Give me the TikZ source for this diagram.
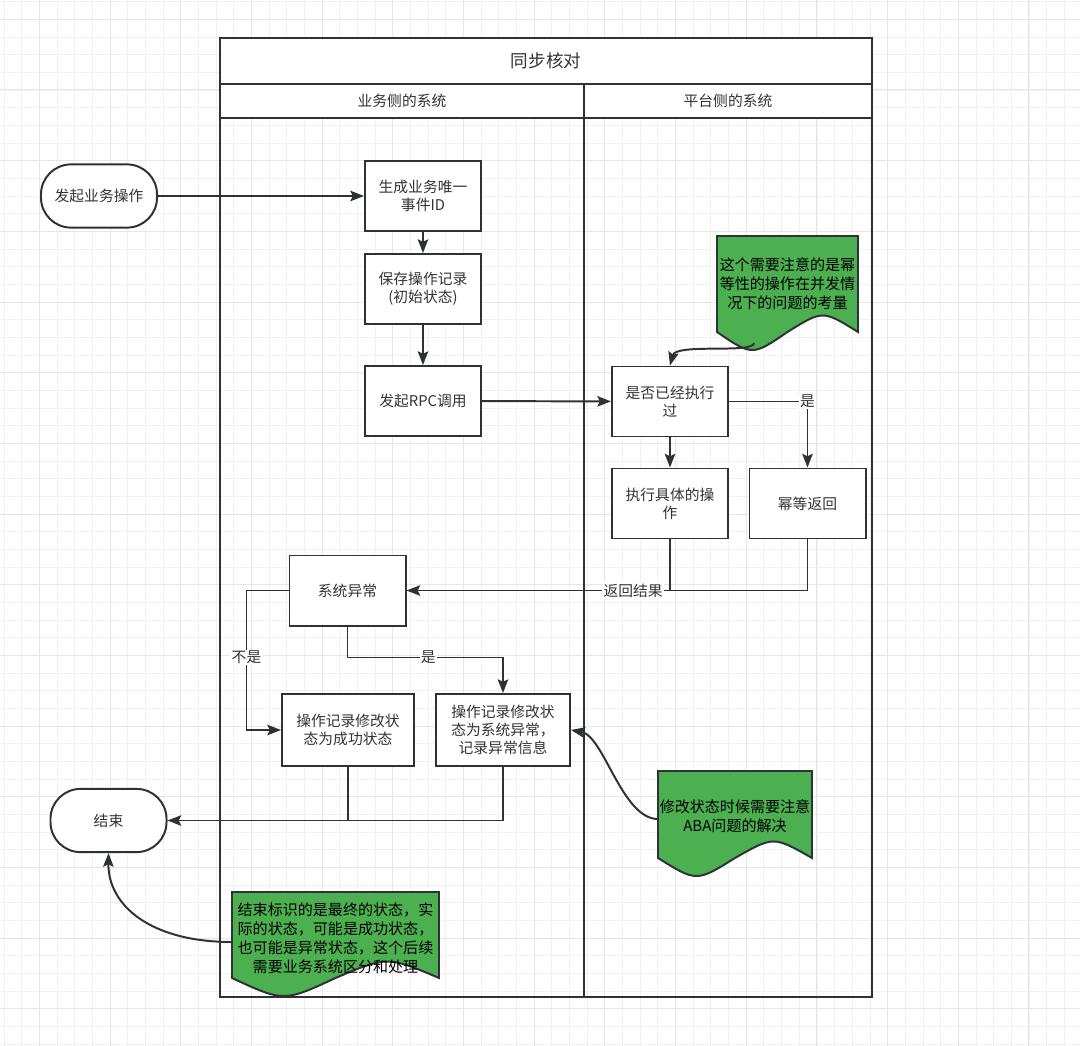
\documentclass[tikz,border=0pt]{standalone}
\usepackage{fontspec}
\setmainfont{Noto Sans CJK SC}
\usetikzlibrary{arrows.meta}

\definecolor{edgegray}{HTML}{2E3236}
\definecolor{txtgray}{HTML}{333333}
\definecolor{notegreen}{HTML}{4CAF50}
\definecolor{gridminor}{HTML}{F1F1F1}
\definecolor{gridmajor}{HTML}{E6E6E6}

\tikzset{
  every node/.style={font=\fontsize{10.5pt}{13pt}\selectfont, text=txtgray, align=center},
  box/.style={draw=edgegray, line width=1.4pt, fill=white, minimum width=2.9cm, minimum height=1.75cm, inner sep=2pt},
  term/.style={box, rounded corners=0.75cm, minimum height=1.58cm},
  note/.style={draw=edgegray, line width=1.4pt, fill=notegreen},
  notetext/.style={font=\fontsize{10.7pt}{13.6pt}\selectfont, text=black},
  arr/.style={draw=edgegray, line width=1.4pt, -{Stealth[length=0.34cm,width=0.26cm,inset=0.06cm]}},
  conn/.style={draw=edgegray, line width=1.4pt},
  lbl/.style={fill=white, inner sep=1pt}
}

% document shape with a wavy bottom edge
\newcommand{\docshape}[4]{%
  \filldraw[note] (#1,#2) -- (#3,#2) -- (#3,#4)
    .. controls ({#1+0.75*(#3-#1)},{#4-22}) .. ({(#1+#3)/2},#4)
    .. controls ({#1+0.25*(#3-#1)},{#4+24}) .. (#1,#4) -- cycle;}

\begin{document}
\begin{tikzpicture}[x=0.025cm, y=-0.025cm]
  \useasboundingbox (0,0) rectangle (1080,1046);
  \fill[white] (0,0) rectangle (1080,1046);

  % grid
  \foreach \i in {0,...,61} {
    \draw[gridminor, line width=0.6pt] ({4.1+17.67*\i},0) -- ({4.1+17.67*\i},1046);
  }
  \foreach \i in {0,...,59} {
    \draw[gridminor, line width=0.6pt] (0,{1.6+17.67*\i}) -- (1080,{1.6+17.67*\i});
  }
  \foreach \i in {0,...,15} {
    \draw[gridmajor, line width=0.7pt] ({39.4+70.68*\i},0) -- ({39.4+70.68*\i},1046);
    \draw[gridmajor, line width=0.7pt] (0,{19.3+70.68*\i}) -- (1080,{19.3+70.68*\i});
  }

  % pool and lanes
  \fill[white] (220,38) rectangle (872,118);
  \draw[edgegray, line width=1.4pt] (220,38) rectangle (872,997);
  \draw[edgegray, line width=1.4pt] (220,84) -- (872,84);
  \draw[edgegray, line width=1.4pt] (220,118) -- (872,118);
  \draw[edgegray, line width=1.4pt] (584,84) -- (584,997);
  \node[font=\fontsize{12.5pt}{15pt}\selectfont] (pooltitle) at (546,61) {同步核对};
  \node (lanebiz) at (402,101) {业务侧的系统};
  \node (laneplat) at (728,101) {平台侧的系统};

  % notes
  \docshape{717}{236}{858}{332}
  \node[notetext] (n1) at (787.5,284) {这个需要注意的是幂\\等性的操作在并发情\\况下的问题的考量};
  \docshape{658}{771}{812}{858}
  \node[notetext] (n2) at (735,816) {修改状态时候需要注意\\ABA问题的解决};
  \docshape{232}{892}{439}{978}
  \node[notetext] (n3) at (335.5,938) {结束标识的是最终的状态，实\\际的状态，可能是成功状态，\\也可能是异常状态，这个后续\\需要业务系统区分和处理};
  \coordinate (n1b) at (754,343);
  \coordinate (n2l) at (658,819);
  \coordinate (n3l) at (232,942);

  % steps
  \node[term] (start) at (99,196) {发起业务操作};
  \node[box] (gen) at (423,196) {生成业务唯一\\事件ID};
  \node[box] (save) at (423,289) {保存操作记录\\(初始状态)};
  \node[box] (rpc) at (423,401) {发起RPC调用};
  \node[box] (chk) at (670,401.5) {是否已经执行\\过};
  \node[box] (exec) at (670,503.5) {执行具体的操\\作};
  \node[box] (idem) at (807.5,503.5) {幂等返回};
  \node[box] (err) at (347.5,590.5) {系统异常};
  \node[box, minimum width=3.3cm, minimum height=1.8cm] (ok) at (348,730) {操作记录修改状\\态为成功状态};
  \node[box, minimum width=3.35cm, minimum height=1.8cm] (fail) at (503,730) {操作记录修改状\\态为系统异常，\\记录异常信息};
  \node[term] (end) at (108.5,820.5) {结束};

  % connectors
  \draw[arr] (start) -- (gen);
  \draw[arr] (gen) -- (save);
  \draw[arr] (save) -- (rpc);
  \draw[arr] (rpc) -- (chk);
  \draw[arr] (chk) -- (exec);
  \draw[arr] (chk.east) -| (idem.north) node[lbl, pos=0.5] {是};
  \draw[conn] (idem.south) |- (exec.south |- err.east);
  \draw[arr] (exec.south) |- (err.east) node[lbl, pos=0.57] {返回结果};
  \draw[arr] (err.west) -- ++(-42,0) |- (ok.west) node[lbl, pos=0.24] {不是};
  \draw[arr] (err.south) -- ++(0,31) -| (fail.north) node[lbl, pos=0.26] {是};
  \draw[conn] (ok.south) -- (ok.south |- end.east);
  \draw[arr] (fail.south) |- (end.east);
  \draw[arr] (n1b) .. controls (754,354) and (676,343) .. (chk.north);
  \draw[arr] (n2l) .. controls (622,819) and (604,736) .. (fail.east);
  \draw[arr] (n3l) .. controls (150,942) and (108,905) .. (end.south);
\end{tikzpicture}
\end{document}
